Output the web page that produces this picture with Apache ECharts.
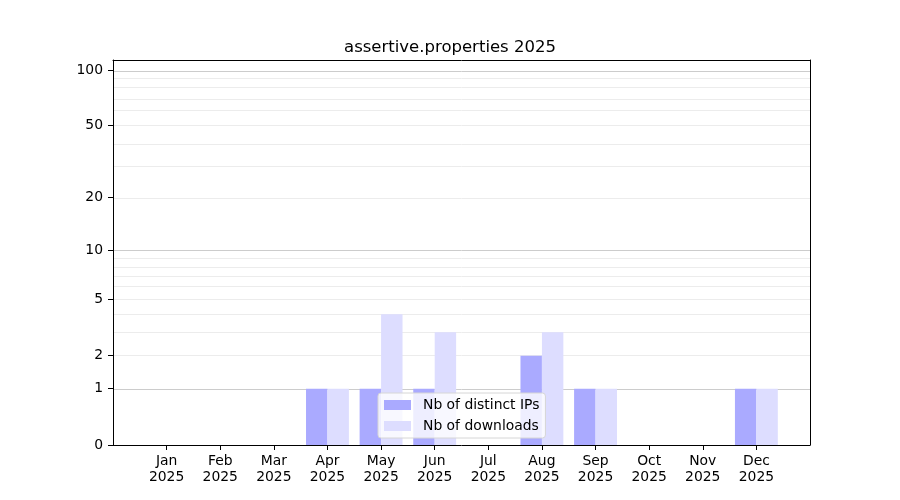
<!DOCTYPE html>
<html>
<head>
<meta charset="utf-8">
<script src="https://cdn.jsdelivr.net/npm/echarts@6/dist/echarts.min.js"></script>
<style>html,body{margin:0;padding:0;background:#fff}#c{width:900px;height:500px}</style>
</head>
<body>
<div id="c"></div>
<script>
const months = ['Jan','Feb','Mar','Apr','May','Jun','Jul','Aug','Sep','Oct','Nov','Dec'];
const year = '2025';
const distinctIPs = [0,0,0,1,1,1,0,2,1,0,0,1];
const downloads   = [0,0,0,1,4,3,0,3,1,0,0,1];
const yTicks = [0,1,2,5,10,20,50,100];
const majorGrid = [1,10,100];
const minorGrid = [2,3,4,5,6,7,8,9,20,30,40,50,60,70,80,90];
const yTop = 113.2;

const t = v => Math.log10(1 + v);
const inv = x => Math.round(Math.pow(10, x) - 1);
const font = 'DejaVu Sans';

const chart = echarts.init(document.getElementById('c'), null, {renderer:'canvas'});
const gridLines = majorGrid.map(v => ({yAxis: t(v), lineStyle:{color:'#cccccc', width:1, type:'solid'}}))
  .concat(minorGrid.map(v => ({yAxis: t(v), lineStyle:{color:'#ececec', width:1, type:'solid'}})));

const frameAxis = {
  show: true, z: 5,
  axisLine: {show: true, onZero: false, lineStyle: {color: '#000', width: 1}},
  axisTick: {show: false}, axisLabel: {show: false}, splitLine: {show: false}
};

chart.setOption({
  animation: false,
  backgroundColor: '#fff',
  title: {
    text: 'assertive.properties ' + year,
    left: 'center', top: 34,
    textStyle: {fontFamily: font, fontSize: 16.5, fontWeight: 'normal', color: '#000'}
  },
  grid: {left: 113, right: 90, top: 60, bottom: 55, show: false},
  legend: {
    orient: 'vertical',
    left: 378, top: 393, z: 10,
    backgroundColor: 'rgba(255,255,255,0.8)',
    borderColor: '#d6d6d6', borderWidth: 1, borderRadius: 3,
    padding: [4, 6, 4, 6],
    itemWidth: 27, itemHeight: 10, itemGap: 5,
    icon: 'rect',
    textStyle: {fontFamily: font, fontSize: 13.9, color: '#000', lineHeight: 16, padding: [0,0,0,7]},
    data: ['Nb of distinct IPs', 'Nb of downloads']
  },
  xAxis: [{
    type: 'value', min: -1, max: 12, position: 'bottom', z: 5,
    splitLine: {show: false},
    axisLine: {show: true, onZero: false, lineStyle: {color: '#000', width: 1}},
    axisTick: {show: true, length: 5, customValues: months.map((m, i) => i), lineStyle: {color: '#000'}},
    axisLabel: {
      customValues: months.map((m, i) => i),
      formatter: v => months[Math.round(v)] + '\n' + year,
      fontFamily: font, fontSize: 13.9, color: '#000', lineHeight: 16, margin: 8
    }
  }, Object.assign({type: 'value', min: -1, max: 12, position: 'top'}, frameAxis)],
  yAxis: [{
    type: 'value', min: 0, max: t(yTop), position: 'left', z: 5,
    splitLine: {show: false},
    axisLine: {show: true, onZero: false, lineStyle: {color: '#000', width: 1}},
    axisTick: {show: true, length: 5, customValues: yTicks.map(t), lineStyle: {color: '#000'}},
    axisLabel: {
      customValues: yTicks.map(t),
      formatter: v => String(inv(v)),
      fontFamily: font, fontSize: 13.9, color: '#000', margin: 10
    }
  }, Object.assign({type: 'value', min: 0, max: t(yTop), position: 'right'}, frameAxis)],
  series: [
    {
      name: 'Nb of distinct IPs', type: 'bar',
      data: distinctIPs.map((v, i) => [i, t(v)]),
      itemStyle: {color: '#aaaaff'},
      barGap: '0%', barCategoryGap: '20%',
      markLine: {silent: true, symbol: ['none','none'], label: {show: false}, z: 1, data: gridLines, animation: false}
    },
    {
      name: 'Nb of downloads', type: 'bar',
      data: downloads.map((v, i) => [i, t(v)]),
      itemStyle: {color: '#ddddff'},
      barGap: '0%', barCategoryGap: '20%'
    }
  ]
});
</script>
</body>
</html>
